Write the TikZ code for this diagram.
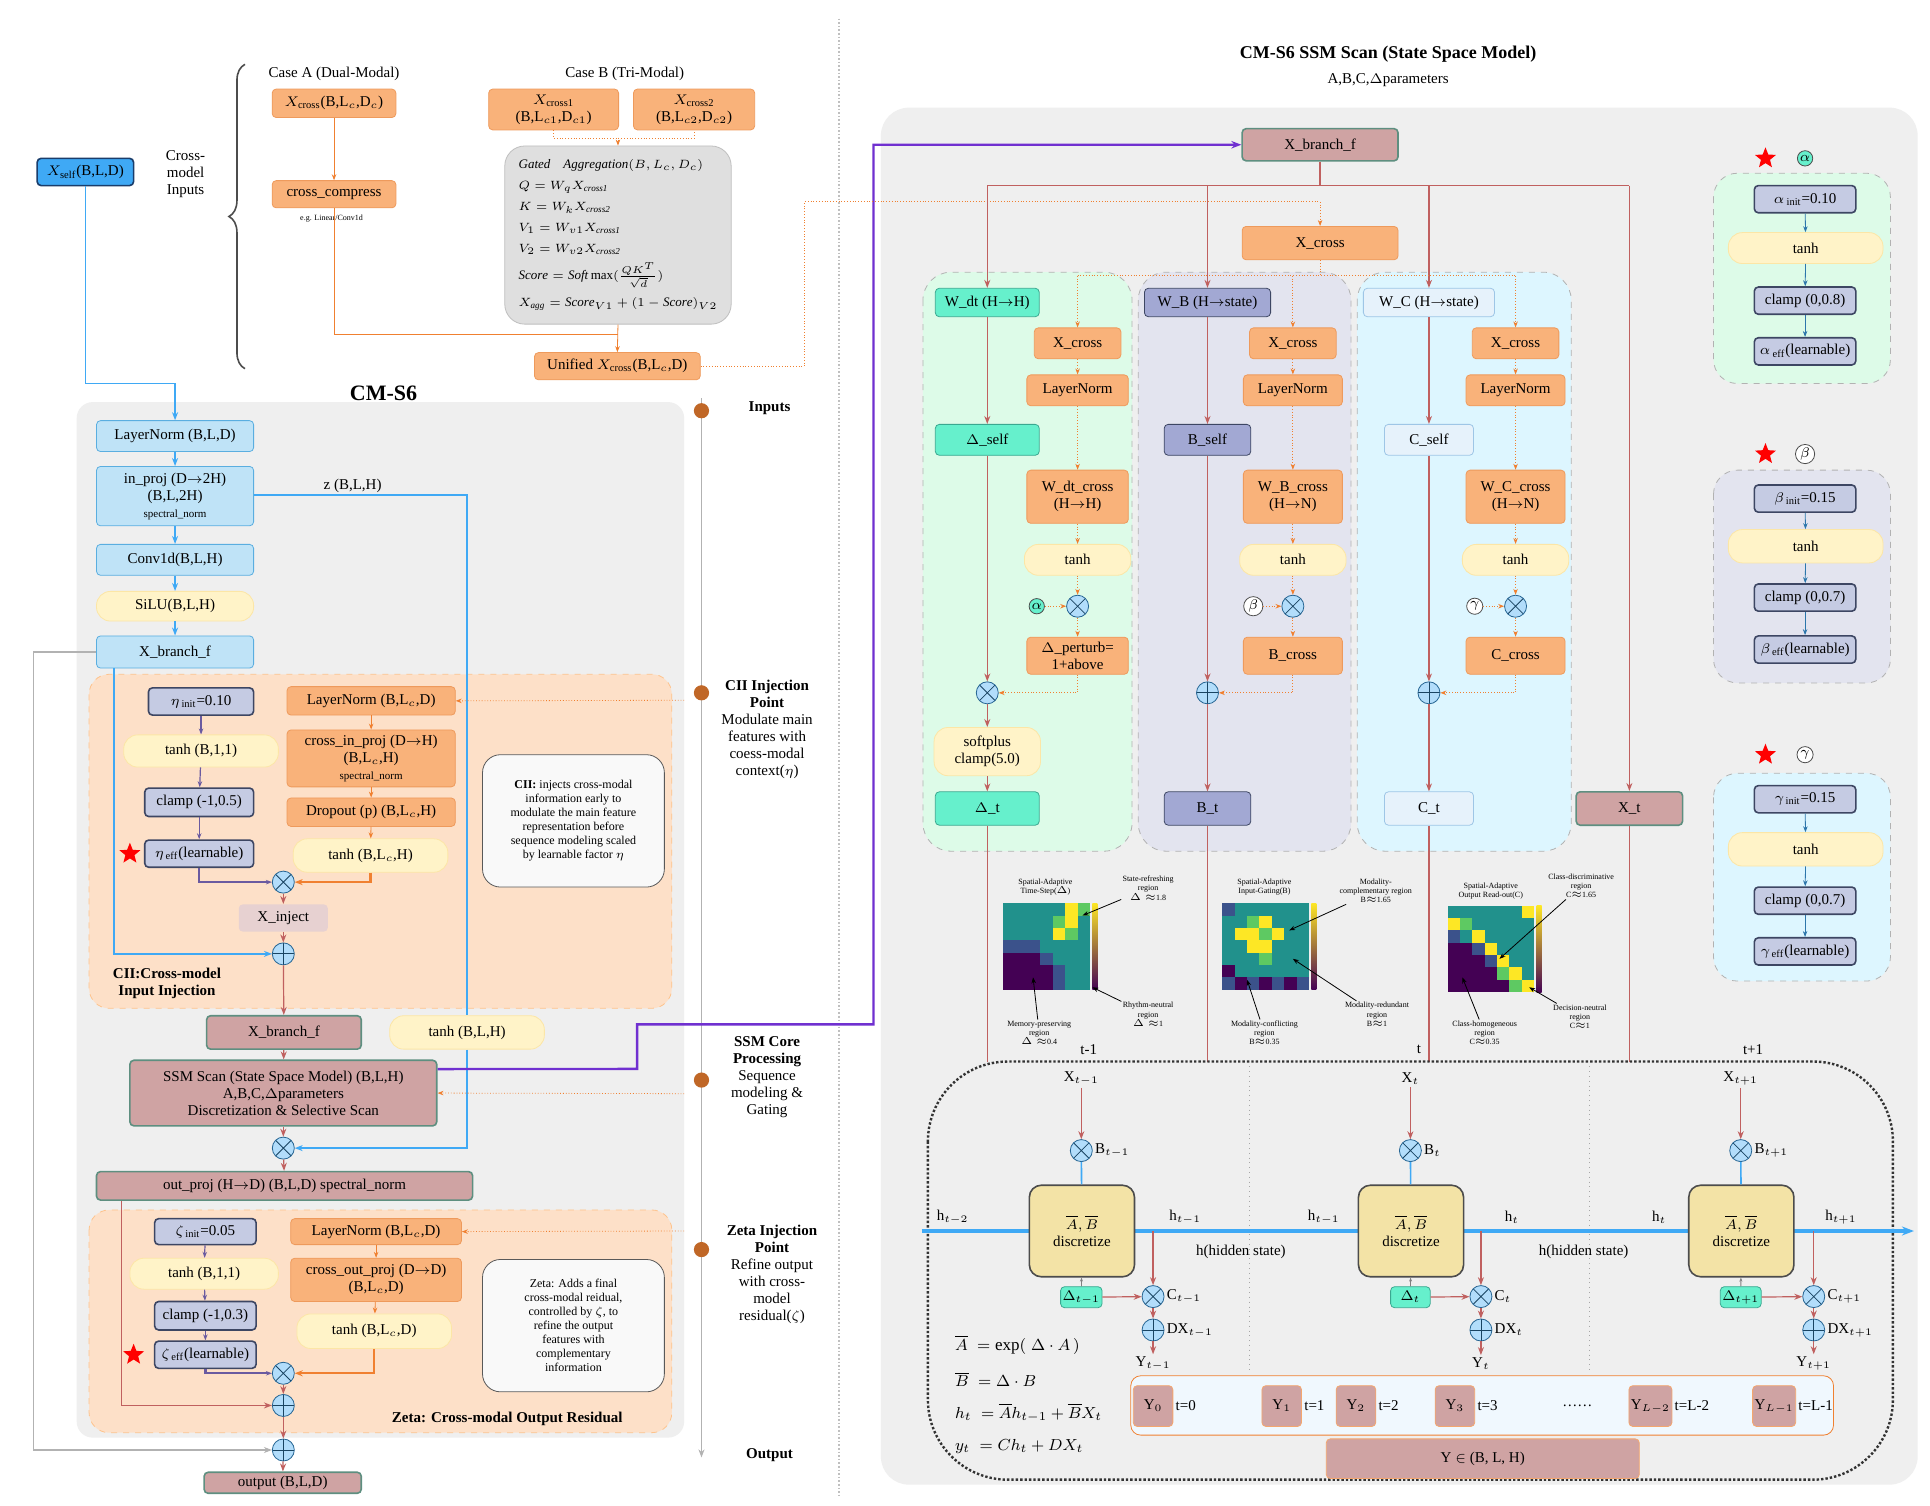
\documentclass[tikz,border=0pt]{standalone}
\usepackage{fontspec}
\setmainfont{Liberation Serif}
\usetikzlibrary{arrows.meta,shapes.geometric,decorations.pathreplacing}

\definecolor{lbF}{HTML}{BFE3F7}\definecolor{lbD}{HTML}{5AAEE0}
\definecolor{xsF}{HTML}{3FA9F5}\definecolor{xsD}{HTML}{1A3D6B}
\definecolor{orF}{HTML}{F9B27A}\definecolor{orD}{HTML}{EE9A5C}
\definecolor{yeF}{HTML}{FFF3C8}\definecolor{yeD}{HTML}{FCE6A6}
\definecolor{paF}{HTML}{C5CBE3}\definecolor{paD}{HTML}{3D4663}
\definecolor{maF}{HTML}{CFA3A3}\definecolor{maD}{HTML}{5E8F80}
\definecolor{teF}{HTML}{66F0CC}\definecolor{teD}{HTML}{3AA890}
\definecolor{wbF}{HTML}{A2A8D3}\definecolor{wcF}{HTML}{E6F2FB}\definecolor{wcD}{HTML}{9EC6E6}
\definecolor{pnG}{HTML}{EFEFEF}\definecolor{pnO}{HTML}{FDE0C8}
\definecolor{cGr}{HTML}{DDFBE8}\definecolor{cPu}{HTML}{E3E4EF}\definecolor{cCy}{HTML}{DDF6FF}
\definecolor{lnB}{HTML}{3FA9F5}\definecolor{lnM}{HTML}{C0605F}\definecolor{lnO}{HTML}{F08030}
\definecolor{lnP}{HTML}{7030D0}\definecolor{lnQ}{HTML}{6A5AA0}
\definecolor{dsF}{HTML}{F3E3A6}
\definecolor{v0}{HTML}{440154}\definecolor{v1}{HTML}{3B528B}\definecolor{v2}{HTML}{21918C}
\definecolor{v3}{HTML}{5EC962}\definecolor{v4}{HTML}{FDE725}

\newcommand{\fs}{\fontsize{7.5}{8.5}\selectfont}
\newcommand{\ft}{\fontsize{4}{4.6}\selectfont}
\def\pxu{0.6185pt}
% box from corner (x1,y1) to (x2,y2), y grows downwards
\newcommand{\blk}[7]{\node[#6, minimum width={((#4)-(#2))*\pxu}, minimum height={((#5)-(#3))*\pxu}]
  (#1) at ({((#2)+(#4))/2},{((#3)+(#5))/2}) {#7};}
% heat map: x0, y0, values (7x7)
\newcommand{\heat}[3]{\foreach \v [count=\k from 0] in {#3}{%
  \pgfmathtruncatemacro\cc{mod(\k,7)}\pgfmathtruncatemacro\rr{div(\k,7)}%
  \fill[v\v] ({#1+\cc*10},{#2+\rr*10}) rectangle ++(10,10);}
  \shade[bottom color=v0, top color=v4] ({#1+72},#2) rectangle ({#1+76},{#2+70});}

\tikzset{
  box/.style={draw, rounded corners=2pt, align=center, inner sep=1pt, font=\fs},
  lblue/.style={box, fill=lbF, draw=lbD},
  xs/.style={box, fill=xsF, draw=xsD, thick},
  orng/.style={box, fill=orF, draw=orD},
  yell/.style={box, fill=yeF, draw=yeD, rounded corners=7pt},
  parm/.style={box, fill=paF, draw=paD, thick},
  mauv/.style={box, fill=maF, draw=maD, thick},
  teal/.style={box, fill=teF, draw=teD},
  wbx/.style={box, fill=wbF, draw=paD},
  wcx/.style={box, fill=wcF, draw=wcD},
  note/.style={box, fill=white!60!pnG, draw=gray!70!black, rounded corners=9pt, font=\fontsize{6}{7}\selectfont},
  disc/.style={box, fill=dsF, draw=black!70, thick, rounded corners=6pt},
  opx/.style={circle, draw=lnB!60!black, fill=lnB!40, minimum size=11pt, inner sep=0pt,
    path picture={\draw[lnB!40!black] (path picture bounding box.north west) -- (path picture bounding box.south east)
      (path picture bounding box.south west) -- (path picture bounding box.north east);}},
  opp/.style={circle, draw=lnB!60!black, fill=lnB!40, minimum size=11pt, inner sep=0pt,
    path picture={\draw[lnB!40!black] (path picture bounding box.north) -- (path picture bounding box.south)
      (path picture bounding box.west) -- (path picture bounding box.east);}},
  grk/.style={circle, draw=black!70, inner sep=0.6pt, font=\fs},
  rstar/.style={star, star points=5, star point ratio=2.3, fill=red, inner sep=0pt, minimum size=11pt},
  bl/.style={draw=lnB, thick, -{Stealth[length=4pt]}},
  ml/.style={draw=lnM, semithick, -{Stealth[length=4pt]}},
  ol/.style={draw=lnO, thin, -{Stealth[length=3pt]}},
  od/.style={draw=lnO, densely dotted, -{Stealth[length=3pt]}},
  pl/.style={draw=lnQ, semithick, -{Stealth[length=3pt]}},
  gl/.style={draw=gray!60, semithick, -{Stealth[length=4pt]}},
  lab/.style={font=\fs, inner sep=1pt},
  ann/.style={font=\ft, align=center, inner sep=0.5pt},
  aw/.style={-{Stealth[length=3pt]}, black, thin},
}

\begin{document}
\begin{tikzpicture}[x=\pxu, y=-\pxu]
\useasboundingbox[fill=white] (0,0) rectangle (1560,1217);

% _____ backgrounds
\fill[pnG, rounded corners=8pt] (62,325) rectangle (553,1162);
\fill[pnG, rounded corners=14pt] (712,87) rectangle (1550,1200);
\draw[gray!50, densely dotted, thick] (678,15) -- (678,1210);
\draw[pnO!70!orange, dashed, fill=pnO, rounded corners=10pt] (72,545) rectangle (543,815);
\draw[pnO!70!orange, dashed, fill=pnO, rounded corners=10pt] (72,978) rectangle (543,1158);
\draw[gray!60, dashed, fill=cGr, rounded corners=14pt] (746,220) rectangle (915,688);
\draw[gray!60, dashed, fill=cPu, rounded corners=14pt] (920,220) rectangle (1092,688);
\draw[gray!60, dashed, fill=cCy, rounded corners=14pt] (1097,220) rectangle (1270,688);
\draw[gray!60, dashed, fill=cGr, rounded corners=12pt] (1385,140) rectangle (1528,310);
\draw[gray!60, dashed, fill=cPu, rounded corners=12pt] (1385,380) rectangle (1528,552);
\draw[gray!60, dashed, fill=cCy, rounded corners=12pt] (1385,625) rectangle (1528,793);

% _____ cross-modal inputs
\blk{xself}{30}{128}{108}{150}{xs}{$X_{\mathrm{self}}$(B,L,D)}
\node[lab, align=center] (cmi) at (150,141) {Cross-\\model\\Inputs};
\draw[gray!60!black, thick, decorate, decoration={brace, amplitude=8pt}] (198,298) -- (198,52);
\node[lab] (casea) at (270,60) {Case A (Dual-Modal)};
\blk{xcr}{220}{72}{320}{95}{orng}{$X_{\mathrm{cross}}$(B,L$_c$,D$_c$)}
\blk{ccomp}{220}{146}{320}{168}{orng}{cross\_compress}
\node[ann] (eg) at (268,177) {e.g. Linear/Conv1d};
\node[lab] (caseb) at (505,60) {Case B (Tri-Modal)};
\blk{xc1}{395}{72}{500}{105}{orng}{$X_{\mathrm{cross1}}$\\(B,L$_{c1}$,D$_{c1}$)}
\blk{xc2}{512}{72}{610}{105}{orng}{$X_{\mathrm{cross2}}$\\(B,L$_{c2}$,D$_{c2}$)}
\blk{agg}{408}{118}{591}{262}{box, fill=gray!25, draw=gray!50, rounded corners=10pt, align=left, font=\fontsize{6.5}{10.5}\selectfont}{%
  $\mathit{Gated}\quad\mathit{Aggregation}(B,L_c,D_c)$\\
  $Q=W_qX_{\mathit{cross1}}$\\ $K=W_kX_{\mathit{cross2}}$\\
  $V_1=W_{v1}X_{\mathit{cross1}}$\\ $V_2=W_{v2}X_{\mathit{cross2}}$\\[3pt]
  $\mathit{Score}=\mathit{Soft}\max(\frac{QK^T}{\sqrt{d}})$\\[3pt]
  $X_{\mathit{agg}}=\mathit{Score}_{V1}+(1-\mathit{Score})_{V2}$}
\blk{unif}{432}{285}{566}{307}{orng}{Unified $X_{\mathrm{cross}}$(B,L$_c$,D)}
\coordinate (mj) at (499.5,270);
\draw[ol] (xcr) -- (ccomp);
\draw[draw=lnO, thin] (ccomp.south) |- (mj);
\draw[ol] (agg.south) -- (unif.north);
\draw[draw=lnO, densely dotted] (xc1.south) -- ++(0,-4pt) -| (xc2.south);
\draw[od] ([yshift=4pt]agg.north) -- (agg.north);
\coordinate (u1) at (650,296); \coordinate (u2) at (650,163);

% _____ CM-S6 main chain
\node[font=\bfseries\fontsize{11}{12}\selectfont] (cms6) at (310,318) {CM-S6};
\blk{ln}{78}{340}{205}{365}{lblue}{LayerNorm (B,L,D)}
\blk{inp}{78}{377}{205}{425}{lblue}{in\_proj (D$\to$2H)\\(B,L,2H)\\{\fontsize{5.5}{6}\selectfont spectral\_norm}}
\blk{conv}{78}{440}{205}{465}{lblue}{Conv1d(B,L,H)}
\blk{silu}{78}{478}{205}{502}{yell}{SiLU(B,L,H)}
\blk{xbf}{78}{514}{205}{540}{lblue}{X\_branch\_f}
\coordinate (b1) at (69,310); \coordinate (b2) at (141.5,310);
\draw[bl] (xself.south) -- (b1) -- (b2) -- (ln.north);
\foreach \a/\b in {ln/inp, inp/conv, conv/silu, silu/xbf} \draw[bl] (\a) -- (\b);
\node[lab] (zl) at (285,393) {z (B,L,H)};

% _____ CII injection
\blk{eini}{120}{556}{205}{578}{parm}{$\eta_{\,\mathrm{init}}$=0.10}
\blk{etanh}{100}{594}{225}{620}{yell}{tanh (B,1,1)}
\blk{ecl}{117}{637}{205}{660}{parm}{clamp (-1,0.5)}
\blk{eeff}{117}{679}{205}{701}{parm}{$\eta_{\,\mathrm{eff}}$(learnable)}
\node[rstar] (est) at (105,690) {};
\blk{cln}{232}{555}{368}{578}{orng}{LayerNorm (B,L$_c$,D)}
\blk{cip}{232}{590}{368}{636}{orng}{cross\_in\_proj (D$\to$H)\\(B,L$_c$,H)\\{\fontsize{5.5}{6}\selectfont spectral\_norm}}
\blk{cdr}{232}{645}{368}{668}{orng}{Dropout (p) (B,L$_c$,H)}
\blk{ctn}{237}{678}{362}{705}{yell}{tanh (B,L$_c$,H)}
\node[opx] (mul1) at (229,713) {};
\blk{xinj}{193}{731}{265}{753}{box, draw=none, fill=maF!50}{X\_inject}
\node[opp] (add1) at (229,771) {};
\node[lab, font=\bfseries\fs, align=center] (ciit) at (135,795) {CII:Cross-model\\Input Injection};
\blk{ciin}{390}{610}{537}{717}{note}{\textbf{CII:} injects cross-modal\\information early to\\modulate the main feature\\representation before\\sequence modeling scaled\\by learnable factor $\eta$}
\foreach \a/\b in {eini/etanh, etanh/ecl, ecl/eeff} \draw[pl] (\a) -- (\b);
\foreach \a/\b in {cln/cip, cip/cdr, cdr/ctn} \draw[ol] (\a) -- (\b);
\draw[pl, very thick] (eeff.south) |- (mul1.west);
\draw[draw=lnO, very thick, -{Stealth[length=4pt]}] (ctn.south) |- (mul1.east);
\draw[ml] (mul1) -- (xinj); \draw[ml] (xinj) -- (add1);
\coordinate (x1) at (92,771);
\draw[bl] (xbf.south -| x1) -- (x1) -- (add1.west);

% _____ SSM core
\blk{xbf2}{167}{821}{292}{848}{mauv}{X\_branch\_f}
\blk{tnz}{315}{821}{440}{848}{yell}{tanh (B,L,H)}
\blk{ssm}{105}{857}{353}{910}{mauv}{SSM Scan (State Space Model) (B,L,H)\\A,B,C,$\Delta$parameters\\Discretization \& Selective Scan}
\node[opx] (mul2) at (229,928) {};
\blk{outp}{78}{947}{382}{970}{mauv}{out\_proj (H$\to$D) (B,L,D) spectral\_norm}
\draw[ml] (add1) -- (xbf2); \draw[ml] (xbf2) -- (ssm); \draw[ml] (ssm) -- (mul2); \draw[ml] (mul2) -- (outp);
\coordinate (z1) at (377.5,400); \coordinate (z2) at (377.5,928);
\draw[draw=lnB, thick] (inp.east |- z1) -- (z1) -- (tnz.north);
\draw[bl] (tnz.south) -- (z2) -- (mul2.east);

% _____ Zeta residual
\blk{zini}{125}{985}{207}{1006}{parm}{$\zeta_{\,\mathrm{init}}$=0.05}
\blk{ztanh}{105}{1017}{225}{1042}{yell}{tanh (B,1,1)}
\blk{zcl}{125}{1052}{207}{1075}{parm}{clamp (-1,0.3)}
\blk{zeff}{125}{1084}{207}{1106}{parm}{$\zeta_{\,\mathrm{eff}}$(learnable)}
\node[rstar] (zst) at (108,1095) {};
\blk{zln}{235}{985}{373}{1006}{orng}{LayerNorm (B,L$_c$,D)}
\blk{zop}{235}{1017}{373}{1052}{orng}{cross\_out\_proj (D$\to$D)\\(B,L$_c$,D)}
\blk{ztn}{240}{1062}{365}{1090}{yell}{tanh (B,L$_c$,D)}
\blk{zn}{390}{1018}{537}{1125}{note}{Zeta: Adds a final\\cross-modal reidual,\\controlled by $\zeta$, to\\refine the output\\features with\\complementary\\information}
\node[opx] (mul3) at (229,1110) {};
\node[opp] (add2) at (229,1136) {};
\node[opp] (add3) at (229,1172) {};
\node[lab, font=\bfseries\fs] (zt) at (410,1147) {Zeta: Cross-modal Output Residual};
\blk{out}{165}{1190}{292}{1207}{mauv}{output (B,L,D)}
\foreach \a/\b in {zini/ztanh, ztanh/zcl, zcl/zeff} \draw[pl] (\a) -- (\b);
\foreach \a/\b in {zln/zop, zop/ztn} \draw[ol] (\a) -- (\b);
\draw[pl, very thick] (zeff.south) |- (mul3.west);
\draw[draw=lnO, very thick, -{Stealth[length=4pt]}] (ztn.south) |- (mul3.east);
\draw[ml] (mul3) -- (add2); \draw[ml] (add2) -- (add3); \draw[ml] (add3) -- (out);
\coordinate (r1) at (98,1136);
\draw[ml] (outp.south -| r1) -- (r1) -- (add2.west);
\coordinate (g1) at (27,527); \coordinate (g2) at (27,1172);
\draw[gl] (xbf.west) -- (g1) -- (g2) -- (add3.west);

% _____ timeline
\draw[gray!60, thick, -{Stealth[length=4pt]}] (567,322) -- (567,1178);
\foreach \y in {332,560,873,1010} \fill[lnO!80!black] (567,\y) circle (3.8pt);
\node[lab, font=\bfseries\fs] (tl1) at (622,330) {Inputs};
\node[lab, align=center, anchor=north] (tl2) at (620,548) {\textbf{CII Injection}\\\textbf{Point}\\Modulate main\\features with\\coess-modal\\context($\eta$)};
\node[lab, align=center, anchor=north] (tl3) at (620,836) {\textbf{SSM Core}\\\textbf{Processing}\\Sequence\\modeling \&\\Gating};
\node[lab, align=center, anchor=north] (tl4) at (624,988) {\textbf{Zeta Injection}\\\textbf{Point}\\Refine output\\with cross-\\model\\residual($\zeta$)};
\node[lab, font=\bfseries\fs] (tl5) at (622,1176) {Output};
\coordinate (t1) at (553,566); \coordinate (t2) at (553,884); \coordinate (t3) at (553,995);
\draw[od] (t1) -- (cln.east); \draw[od] (t2) -- (ssm.east); \draw[od] (t3) -- (zln.east);

% _____ right: SSM scan
\node[font=\bfseries\fontsize{9}{10}\selectfont] (rt1) at (1122,44) {CM-S6 SSM Scan (State Space Model)};
\node[lab] (rt2) at (1122,65) {A,B,C,$\Delta$parameters};
\blk{xbfR}{1004}{104}{1130}{130}{mauv}{X\_branch\_f}
\blk{xcrR}{1004}{183}{1130}{210}{orng}{X\_cross}
\coordinate (p1) at (515,864); \coordinate (p2) at (515,828); \coordinate (p3) at (706,828); \coordinate (p4) at (706,117);
\draw[draw=lnP, very thick, -{Stealth[length=5pt]}] ([yshift=12pt]ssm.east) -- (p1) -- (p2) -- (p3) -- (p4) -- (xbfR.west);
\draw[od] (unif.east) -- (u1) -- (u2) -| (xcrR.north);

% column Delta
\blk{wdt}{756}{233}{840}{256}{teal}{W\_dt (H$\to$H)}
\blk{dself}{756}{343}{840}{368}{teal}{$\Delta$\_self}
\node[opx] (mula) at (798,560) {};
\blk{sfp}{755}{588}{841}{627}{yell}{softplus\\clamp(5.0)}
\blk{dt}{756}{640}{840}{667}{teal}{$\Delta$\_t}
\blk{xca}{836}{265}{906}{290}{orng}{X\_cross}
\blk{lna}{830}{303}{912}{328}{orng}{LayerNorm}
\blk{wca}{830}{380}{912}{423}{orng}{W\_dt\_cross\\(H$\to$H)}
\blk{tna}{828}{440}{914}{465}{yell}{tanh}
\node[opx] (mxa) at (871,490) {};
\node[grk, fill=teF] (ga) at (838,490) {$\alpha$};
\blk{pta}{830}{515}{912}{545}{orng}{$\Delta$\_perturb=\\1+above}
% column B
\blk{wb}{925}{233}{1027}{256}{wbx}{W\_B (H$\to$state)}
\blk{bself}{941}{343}{1011}{368}{wbx}{B\_self}
\node[opp] (adb) at (976,560) {};
\blk{bt}{941}{640}{1011}{667}{wbx}{B\_t}
\blk{xcb}{1010}{265}{1080}{290}{orng}{X\_cross}
\blk{lnb}{1005}{303}{1085}{328}{orng}{LayerNorm}
\blk{wcb}{1005}{380}{1085}{423}{orng}{W\_B\_cross\\(H$\to$N)}
\blk{tnb}{1002}{440}{1088}{465}{yell}{tanh}
\node[opx] (mxb) at (1045,490) {};
\node[grk, fill=white] (gb) at (1013,490) {$\beta$};
\blk{bcr}{1005}{515}{1085}{545}{orng}{B\_cross}
% column C
\blk{wc}{1102}{233}{1208}{256}{wcx}{W\_C (H$\to$state)}
\blk{cself}{1119}{343}{1191}{368}{wcx}{C\_self}
\node[opp] (adc) at (1155,560) {};
\blk{ct}{1119}{640}{1191}{667}{wcx}{C\_t}
\blk{xcc}{1190}{265}{1260}{290}{orng}{X\_cross}
\blk{lnc}{1185}{303}{1265}{328}{orng}{LayerNorm}
\blk{wcc}{1185}{380}{1265}{423}{orng}{W\_C\_cross\\(H$\to$N)}
\blk{tnc}{1182}{440}{1268}{465}{yell}{tanh}
\node[opx] (mxc) at (1225,490) {};
\node[grk, fill=white] (gc) at (1192,490) {$\gamma$};
\blk{ccr}{1185}{515}{1265}{545}{orng}{C\_cross}
\blk{xt}{1274}{640}{1360}{667}{mauv}{X\_t}

% mauve feed from X_branch_f
\coordinate (m0) at (1067,150); \coordinate (mL) at (798,150); \coordinate (mB) at (976,150);
\coordinate (mC) at (1155,150); \coordinate (mR) at (1317,150);
\draw[draw=lnM, semithick] (xbfR.south) -- (m0) (mL) -- (mR);
\draw[ml] (mL) -- (wdt.north); \draw[ml] (mB) -- (wb.north); \draw[ml] (mC) -- (wc.north); \draw[ml] (mR) -- (xt.north);
\draw[ml] (wdt) -- (dself); \draw[ml] (dself) -- (mula); \draw[ml] (mula) -- (sfp); \draw[ml] (sfp) -- (dt);
\draw[ml] (wb) -- (bself); \draw[ml] (bself) -- (adb); \draw[ml] (adb) -- (bt);
\draw[ml] (wc) -- (cself); \draw[ml] (cself) -- (adc); \draw[ml] (adc) -- (ct);
% orange feed from X_cross
\coordinate (o0) at (1067,223);
\coordinate (oa) at (871,223); \coordinate (ob) at (1045,223); \coordinate (oc) at (1225,223);
\draw[draw=lnO, densely dotted] (xcrR.south) -- (o0) (oa) -- (oc);
\foreach \c in {a,b,c}{
  \draw[od] (o\c) -- (xc\c.north);
  \draw[od] (xc\c) -- (ln\c); \draw[od] (ln\c) -- (wc\c); \draw[od] (wc\c) -- (tn\c);
  \draw[od] (tn\c) -- (mx\c); \draw[od] (g\c) -- (mx\c);}
\draw[od] (mxa) -- (pta); \draw[od] (mxb) -- (bcr); \draw[od] (mxc) -- (ccr);
\draw[od] (pta.south) |- (mula.east); \draw[od] (bcr.south) |- (adb.east); \draw[od] (ccr.south) |- (adc.east);

% parameter panels
\node[rstar] (sa) at (1427,128) {}; \node[grk, fill=teF] (pa) at (1459,128) {$\alpha$};
\blk{ai}{1418}{150}{1500}{172}{parm}{$\alpha_{\,\mathrm{init}}$=0.10}
\blk{at}{1397}{188}{1522}{213}{yell}{tanh}
\blk{ac}{1418}{232}{1500}{254}{parm}{clamp (0,0.8)}
\blk{ae}{1418}{273}{1500}{295}{parm}{$\alpha_{\,\mathrm{eff}}$(learnable)}
\node[rstar] (sb) at (1427,367) {}; \node[grk, fill=white] (pb) at (1459,367) {$\beta$};
\blk{bi}{1418}{392}{1500}{414}{parm}{$\beta_{\,\mathrm{init}}$=0.15}
\blk{btn}{1397}{428}{1522}{455}{yell}{tanh}
\blk{bc}{1418}{472}{1500}{494}{parm}{clamp (0,0.7)}
\blk{be}{1418}{514}{1500}{536}{parm}{$\beta_{\,\mathrm{eff}}$(learnable)}
\node[rstar] (sc) at (1427,610) {}; \node[grk, fill=white] (pc) at (1459,610) {$\gamma$};
\blk{ci}{1418}{635}{1500}{657}{parm}{$\gamma_{\,\mathrm{init}}$=0.15}
\blk{ctn2}{1397}{673}{1522}{700}{yell}{tanh}
\blk{cc}{1418}{717}{1500}{739}{parm}{clamp (0,0.7)}
\blk{ce}{1418}{758}{1500}{780}{parm}{$\gamma_{\,\mathrm{eff}}$(learnable)}
\foreach \a/\b in {ai/at, at/ac, ac/ae, bi/btn, btn/bc, bc/be, ci/ctn2, ctn2/cc, cc/ce}
  \draw[draw=lnB!70!black, -{Stealth[length=3pt]}] (\a) -- (\b);

% heat maps
\heat{811}{730}{2,2,2,2,2,4,3, 2,2,2,2,3,4,2, 2,2,2,2,4,3,2, 1,1,1,2,2,2,2, 0,0,0,1,2,2,2, 0,0,0,0,1,2,2, 0,0,0,0,1,2,2}
\heat{988}{730}{1,2,2,2,2,2,2, 2,2,3,4,2,2,2, 2,4,4,3,4,2,2, 2,2,4,4,2,2,2, 2,2,2,3,2,2,2, 0,2,2,2,2,2,2, 1,0,1,0,1,0,1}
\heat{1170}{732}{2,2,2,2,2,2,4, 4,3,2,2,2,2,2, 1,2,4,2,2,2,2, 0,0,1,4,2,2,2, 0,0,0,1,4,2,2, 0,0,0,0,3,4,2, 0,0,0,0,0,3,4}
\node[ann] (h1a) at (845,717) {Spatial-Adaptive\\Time-Step($\Delta$)};
\node[ann] (h1b) at (928,718) {State-refreshing\\region\\$\Delta\approx$1.8};
\node[ann] (h1c) at (840,835) {Memory-preserving\\region\\$\Delta\approx$0.4};
\node[ann] (h1d) at (928,820) {Rhythm-neutral\\region\\$\Delta\approx$1};
\node[ann] (h2a) at (1022,717) {Spatial-Adaptive\\Input-Gating(B)};
\node[ann] (h2b) at (1112,720) {Modality-\\complementary region\\B$\approx$1.65};
\node[ann] (h2c) at (1022,835) {Modality-conflicting\\region\\B$\approx$0.35};
\node[ann] (h2d) at (1113,820) {Modality-redundant\\region\\B$\approx$1};
\node[ann] (h2e) at (1205,720) {Spatial-Adaptive\\Output Read-out(C)};
\node[ann] (h3b) at (1278,716) {Class-discriminative\\region\\C$\approx$1.65};
\node[ann] (h3c) at (1200,835) {Class-homogeneous\\region\\C$\approx$0.35};
\node[ann] (h3d) at (1277,822) {Decision-neutral\\region\\C$\approx$1};
\coordinate (k1) at (875,740); \coordinate (k2) at (835,790); \coordinate (k3) at (883,798);
\coordinate (k4) at (1042,752); \coordinate (k5) at (1008,792); \coordinate (k6) at (1045,775);
\coordinate (k7) at (1212,775); \coordinate (k8) at (1182,790); \coordinate (k9) at (1236,798);
\draw[aw] (h1b) -- (k1); \draw[aw] (h1c) -- (k2); \draw[aw] (h1d) -- (k3);
\draw[aw] (h2b) -- (k4); \draw[aw] (h2c) -- (k5); \draw[aw] (h2d) -- (k6);
\draw[aw] (h3b) -- (k7); \draw[aw] (h3c) -- (k8); \draw[aw] (h3d) -- (k9);

% columns down into the scan
\coordinate (d1) at (798,858); \coordinate (d2) at (976,858); \coordinate (d3) at (1155,858); \coordinate (d4) at (1317,858);
\draw[draw=lnM, semithick] (dt.south) -- (d1) (bt.south) -- (d2) (ct.south) -- (d3) (xt.south) -- (d4);
\node[lab] (tm1) at (880,848) {t-1}; \node[lab] (tm2) at (1147,848) {t}; \node[lab] (tm3) at (1417,848) {t+1};

% _____ scan over time
\draw[black!80, densely dotted, very thick, rounded corners=40pt] (750,858) rectangle (1530,1196);
\draw[gray!70, dotted] (1010,862) -- (1010,1108) (1285,862) -- (1285,1108);
\coordinate (hs) at (745,995); \coordinate (he) at (1547,995);
\draw[draw=lnB, line width=2pt, -{Stealth[length=6pt]}] (hs) -- (he);
\foreach \i/\x/\cx/\s in {1/874/932/{t-1}, 2/1140/1197/t, 3/1407/1466/{t+1}}{
  \node[lab] (xl\i) at (\x,872) {X$_{\s}$};
  \node[opx] (bm\i) at (\x,930) {};
  \node[lab, anchor=west] at (bm\i.east) {B$_{\s}$};
  \blk{ds\i}{\x-42}{958}{\x+43}{1032}{disc}{$\overline{A},\overline{B}$\\discretize}
  \blk{dl\i}{\x-16}{1040}{\x+16}{1057}{teal}{$\Delta_{\s}$}
  \coordinate (cp\i) at (\cx,995);
  \node[opx] (cm\i) at (\cx,1048) {};
  \node[lab, anchor=west] at (cm\i.east) {C$_{\s}$};
  \node[opp] (dx\i) at (\cx,1075) {};
  \node[lab, anchor=west] at (dx\i.east) {DX$_{\s}$};
  \node[lab] (yl\i) at (\cx,1102) {Y$_{\s}$};
  \draw[ml] (xl\i) -- (bm\i); \draw[draw=lnB, thick] (bm\i) -- (ds\i);
  \draw[draw=gray, -{Stealth[length=2pt]}] (dl\i) -- (ds\i);
  \draw[ml] (cp\i) -- (cm\i); \draw[ml] (dl\i) -- (cm\i);
  \draw[ml] (cm\i) -- (dx\i); \draw[ml] (dx\i) -- (yl\i);}
\foreach \x/\t in {770/{t-2}, 958/{t-1}, 1070/{t-1}, 1222/t, 1341/t, 1488/{t+1}}
  \node[lab] at (\x,984) {h$_{\t}$};
\node[lab] (hh1) at (1003,1012) {h(hidden state)};
\node[lab] (hh2) at (1280,1012) {h(hidden state)};
\node[lab, anchor=west, font=\fontsize{8.5}{9}\selectfont] (eq1) at (770,1087) {$\overline{A}\;=\exp(\;\Delta\cdot A\,)$};
\node[lab, anchor=west, font=\fontsize{8.5}{9}\selectfont] (eq2) at (770,1115) {$\overline{B}\;=\Delta\cdot B$};
\node[lab, anchor=west, font=\fontsize{8.5}{9}\selectfont] (eq3) at (770,1142) {$h_t\;=\overline{A}h_{t-1}+\overline{B}X_t$};
\node[lab, anchor=west, font=\fontsize{8.5}{9}\selectfont] (eq4) at (770,1169) {$y_t\;=Ch_t+DX_t$};
\draw[draw=lnO, fill=lnB!8, rounded corners=5pt] (914,1112) rectangle (1482,1160);
\foreach \n/\x/\l/\t in {y0/916/0/{t=0}, y1/1020/1/{t=1}, y2/1080/2/{t=2}, y3/1160/3/{t=3}, y4/1318/{L-2}/{t=L-2}, y5/1418/{L-1}/{t=L-1}}{
  \blk{\n}{\x}{1120}{\x+32}{1153}{box, fill=maF, draw=lnO!70}{Y$_{\l}$}
  \node[lab, anchor=west] at (\n.east) {\t};}
\node[lab] (ydots) at (1275,1136) {\dots\dots};
\blk{yall}{1072}{1163}{1325}{1195}{box, fill=maF, draw=lnO!70}{Y $\in$ (B, L, H)}
\end{tikzpicture}
\end{document}
